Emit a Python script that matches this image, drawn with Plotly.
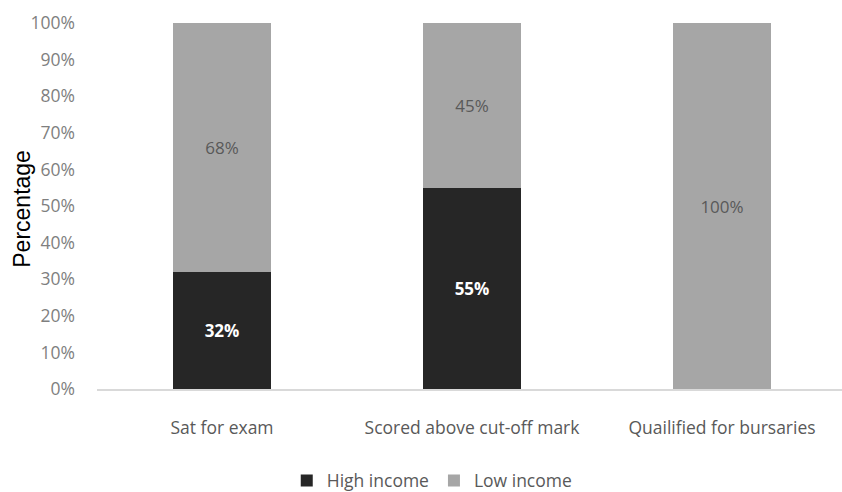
import plotly.graph_objects as go

categories = ["Sat for exam", "Scored above cut-off mark", "Quailified for bursaries"]
high_income = [32, 55, 0]
low_income = [68, 45, 100]
y_ticks = [0, 10, 20, 30, 40, 50, 60, 70, 80, 90, 100]

font_family = "Open Sans, Liberation Sans, Arial"
fs = 17.5

fig = go.Figure()
fig.add_trace(go.Bar(
    x=categories, y=[v / 100 for v in high_income], name="High income",
    marker=dict(color="#262626", line=dict(width=0)),
    text=[f"{v}%" if v else "" for v in high_income],
    textposition="inside", insidetextanchor="middle",
    textfont=dict(color="white", size=17, family=font_family, weight="bold"),
))
fig.add_trace(go.Bar(
    x=categories, y=[v / 100 for v in low_income], name="Low income",
    marker=dict(color="#a6a6a6", line=dict(width=0)),
    text=[f"{v}%" for v in low_income],
    textposition="inside", insidetextanchor="middle",
    textfont=dict(color="#595959", size=fs, family=font_family),
))

fig.update_layout(
    barmode="stack", bargap=0.61,
    width=842, height=492,
    margin=dict(l=97, r=0, t=23, b=103, autoexpand=False),
    plot_bgcolor="white", paper_bgcolor="white",
    font=dict(family=font_family, color="#7f7f7f", size=fs),
    showlegend=True,
    legend=dict(orientation="h", x=0.45, xanchor="center", y=-0.25, yanchor="middle",
                font=dict(size=fs, color="#595959"), traceorder="normal",
                itemwidth=30),
    uniformtext=dict(mode="show", minsize=12),
    annotations=[dict(
        text="Percentage", textangle=-90, xref="paper", yref="paper",
        x=-0.1007, y=0.4925, xanchor="center", yanchor="middle", showarrow=False,
        font=dict(family="Liberation Sans, Arial", size=23, color="#000000"),
    )],
)
fig.update_xaxes(
    type="category", range=[-0.5, 2.48],
    showline=True, linecolor="#d9d9d9", linewidth=1.5, ticks="",
    tickfont=dict(size=fs, color="#595959"), ticklabelstandoff=22,
    automargin=False,
)
fig.update_yaxes(
    range=[0, 1], tickvals=[v / 100 for v in y_ticks],
    ticktext=[f"{v}%" for v in y_ticks],
    showgrid=False, zeroline=False, showline=False,
    tickfont=dict(size=fs, color="#7f7f7f"), ticklabelstandoff=21,
    automargin=False,
)

fig.write_html("out.html", config={"displayModeBar": False},
               post_script="document.body.style.margin='0';document.body.style.overflow='hidden';")
